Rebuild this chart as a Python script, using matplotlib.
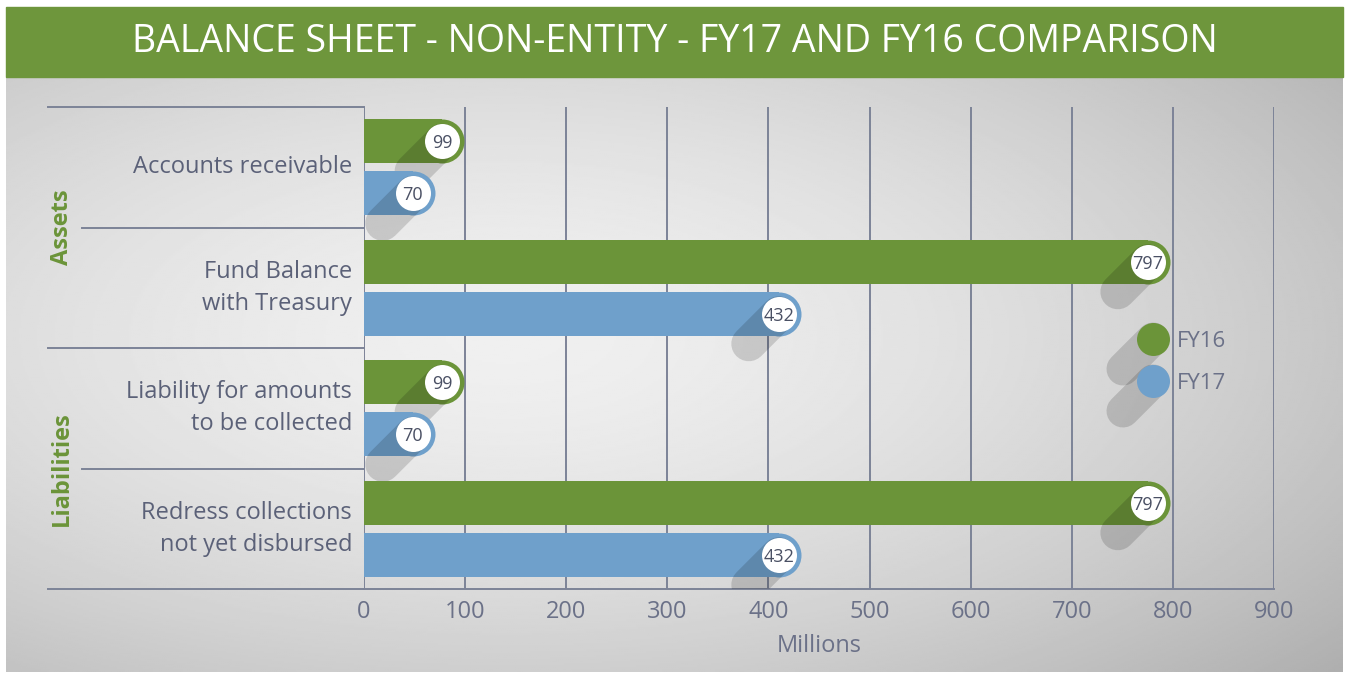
import numpy as np
import matplotlib.pyplot as plt
from matplotlib.patches import Rectangle
import matplotlib.transforms as mtransforms

plt.rcParams['font.family'] = ['Open Sans', 'DejaVu Sans']

categories = ["Accounts receivable", "Fund Balance\nwith Treasury",
              "Liability for amounts\nto be collected", "Redress collections\nnot yet disbursed"]
fy16 = [99, 797, 99, 797]
fy17 = [70, 432, 70, 432]
groups = ["Assets", "Liabilities"]
ticks = [0, 100, 200, 300, 400, 500, 600, 700, 800, 900]

GREEN = "#6b9439"
BLUE = "#6fa0cb"
LINE = "#7c8397"
TXT = "#5b6178"
NUM = "#4a5064"

W, H = 1351, 674
fig = plt.figure(figsize=(W / 100, H / 100), dpi=100)

# background panel with soft vignette
bg = fig.add_axes([6 / W, 2 / H, 1337 / W, (672 - 77) / H])
yy, xx = np.mgrid[0:300, 0:670]
d = np.sqrt(((xx - 250) / 560.0) ** 2 + ((yy - 130) / 260.0) ** 2)
img = 0.94 - 0.26 * np.clip(d, 0, 1.4) ** 1.6
bg.imshow(img, cmap="gray", vmin=0, vmax=1, aspect="auto", extent=[0, 1, 0, 1], origin="upper")
bg.set_axis_off()

# title bar
fig.patches.append(Rectangle((6 / W, (H - 77) / H), 1337 / W, 70 / H,
                             transform=fig.transFigure, color="#6e963c", zorder=0))
fig.text((6 + 1343) / 2 / W, (H - 42) / H, "BALANCE SHEET - NON-ENTITY - FY17 AND FY16 COMPARISON",
         color="white", fontsize=27, ha="center", va="center")

x0, x1, ytop, ybot = 364, 1274, 107, 589
ax = fig.add_axes([x0 / W, (H - ybot) / H, (x1 - x0) / W, (ybot - ytop) / H])
ax.patch.set_alpha(0)
ax.set_xlim(0, 900)
ax.set_ylim(3.5, -0.5)
for s in ax.spines.values():
    s.set_visible(False)
ax.set_xticks(ticks)
ax.set_yticks([])
ax.tick_params(axis="x", length=0, pad=8, labelsize=17, labelcolor="#6b7188")
ax.set_xlabel("Millions", fontsize=17, color="#6b7188", labelpad=7)
for t in ticks:
    ax.axvline(t, color=LINE, lw=1.4, zorder=1)
ax.axhline(3.5, color=LINE, lw=1.4, zorder=1, clip_on=False)

px_x = (x1 - x0) / 900.0          # pixels per unit
px_y = (ybot - ytop) / 4.0         # pixels per category
bar_px = 44
bar_h = bar_px / px_y
off = 26 / px_y
r_units = (bar_px / 2) / px_x
sh_dx = 30 / px_x
sh_dy = 30 / px_y

z = 2
for i, cat in enumerate(categories):
    for val, col, dy in ((fy16[i], GREEN, -off), (fy17[i], BLUE, off)):
        y = i + dy
        xe = val - r_units
        ax.barh(y, xe, height=bar_h, color=col, zorder=z)
        ax.plot([xe], [y], "o", ms=bar_px * 0.72, color=col, mew=0, zorder=z)
        ax.plot([xe, xe - sh_dx], [y, y + sh_dy], color="black", alpha=0.15,
                lw=35 * 0.72, solid_capstyle="round", zorder=z + 0.5)
        ax.plot([xe], [y], "o", ms=35 * 0.72, color="white", mew=0, zorder=z + 0.7)
        ax.text(xe, y, str(val), ha="center", va="center_baseline", fontsize=13,
                color=NUM, zorder=z + 0.8)
        z += 1
    ax.text(-0.013, i, cat, transform=mtransforms.blended_transform_factory(ax.transAxes, ax.transData),
            ha="right", va="center", fontsize=17, color=TXT, linespacing=1.45)

# left separators
bt = mtransforms.blended_transform_factory(ax.transAxes, ax.transData)
for yb in (-0.5, 1.5, 3.5):
    ax.plot([(48 - x0) / (x1 - x0), 0], [yb, yb], color=LINE, lw=1.4, transform=bt, clip_on=False)
for yb in (0.5, 2.5):
    ax.plot([(82 - x0) / (x1 - x0), 0], [yb, yb], color=LINE, lw=1.4, transform=bt, clip_on=False)

for g, yc in zip(groups, (0.5, 2.5)):
    ax.text((62 - x0) / (x1 - x0), yc, g, transform=bt, rotation=90, ha="center", va="center",
            fontsize=17, fontweight="bold", color=GREEN)

# legend
lx = (1153 - x0) / (x1 - x0)
for k, (lab, col, py) in enumerate((("FY16", GREEN, 339), ("FY17", BLUE, 381))):
    ly = 1 - (py - ytop) / (ybot - ytop)
    ax.plot([lx, lx - 30 / (x1 - x0)], [ly, ly - 30 / (ybot - ytop)], color="black", alpha=0.15,
            lw=33 * 0.72, solid_capstyle="round", transform=ax.transAxes, clip_on=False, zorder=50 + k)
    ax.plot([lx], [ly], "o", ms=33 * 0.72, color=col, mew=0, transform=ax.transAxes,
            clip_on=False, zorder=50.5 + k)
    ax.text(lx + 24 / (x1 - x0), ly, lab, transform=ax.transAxes, ha="left", va="center_baseline",
            fontsize=16, color="#6b7188", zorder=52)

fig.savefig("out.png", dpi=100)
